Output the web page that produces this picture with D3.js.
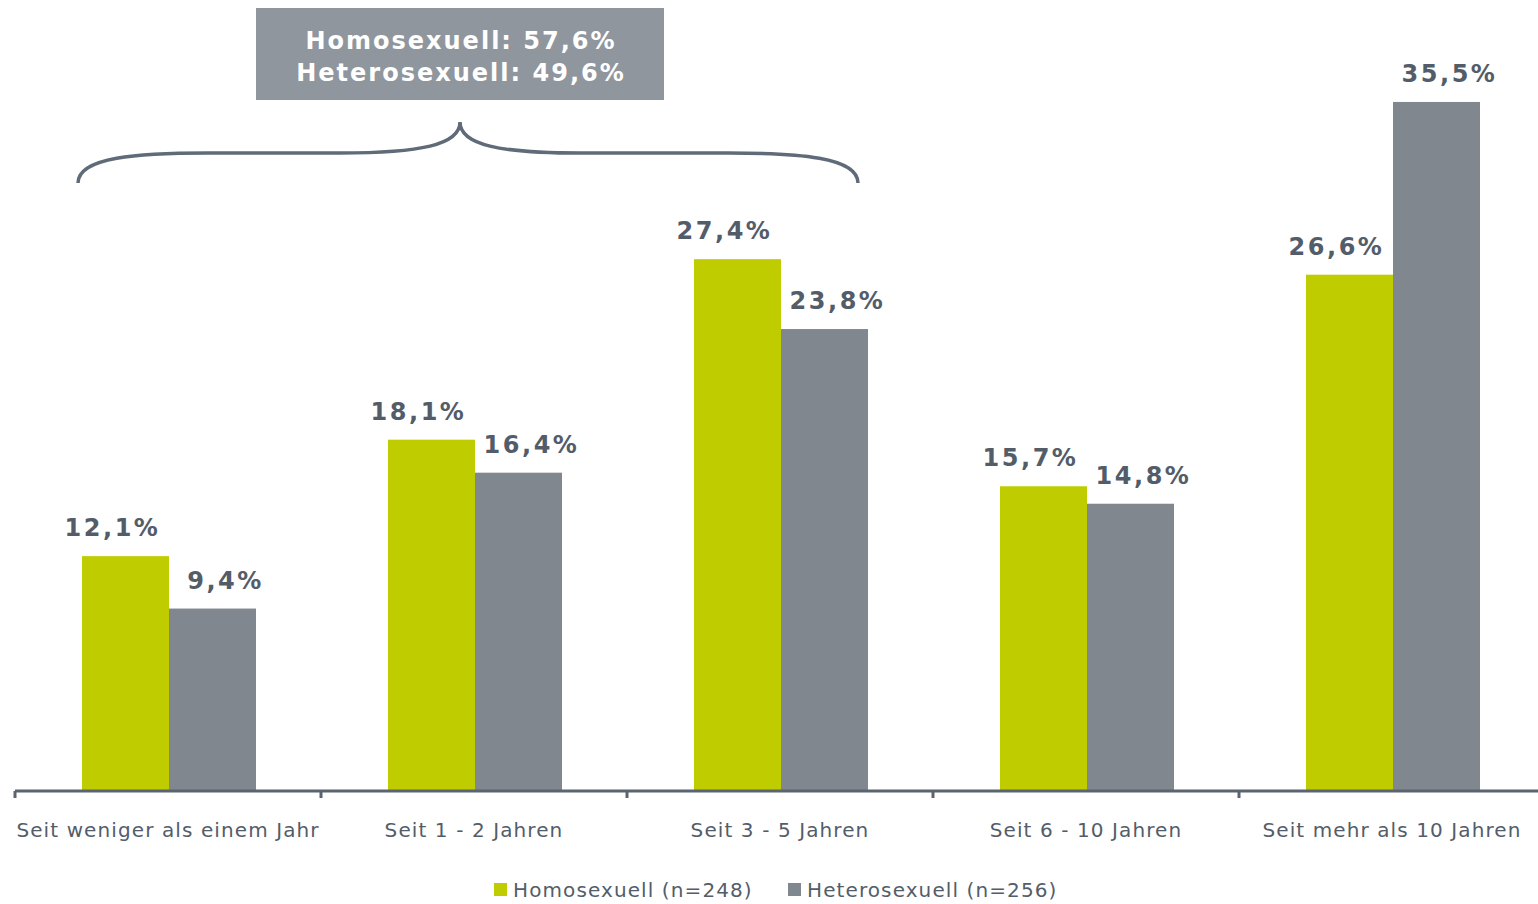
<!DOCTYPE html>
<html>
<head>
<meta charset="utf-8">
<script src="https://cdn.jsdelivr.net/npm/d3@7"></script>
<style>
  body { margin: 0; background: #fff; }
  svg { display: block; font-family: "DejaVu Sans", Verdana, sans-serif; }
</style>
</head>
<body>
<svg id="chart" width="1538" height="904"></svg>
<script>
const CATEGORIES = ['Seit weniger als einem Jahr', 'Seit 1 - 2 Jahren', 'Seit 3 - 5 Jahren', 'Seit 6 - 10 Jahren', 'Seit mehr als 10 Jahren'];
const SERIES = ['Homosexuell (n=248)', 'Heterosexuell (n=256)'];
const HOMO = [12.1, 18.1, 27.4, 15.7, 26.6];
const HETERO = [9.4, 16.4, 23.8, 14.8, 35.5];
const SUMMARY = ['Homosexuell: 57,6%', 'Heterosexuell: 49,6%'];

const COLORS = ['#bfcd00', '#80878f'];
const TEXT = '#535d6a';
const BASE_Y = 791;

const svg = d3.select('#chart');

const xCat = d3.scaleBand()
  .domain(CATEGORIES)
  .range([15, 1545])
  .padding(0);

const xSer = d3.scaleBand()
  .domain(SERIES)
  .range([67, 241]);

const y = d3.scaleLinear()
  .domain([0, 40])
  .range([BASE_Y, BASE_Y - 40 * 19.41]);

const rows = CATEGORIES.map((c, i) => ({ cat: c, values: [HOMO[i], HETERO[i]] }));
const fmt = v => d3.format('.1f')(v).replace('.', ',') + '%';

// bars
const groups = svg.append('g')
  .selectAll('g')
  .data(rows)
  .enter()
  .append('g')
  .attr('transform', d => `translate(${xCat(d.cat)},0)`);

groups.selectAll('rect')
  .data(d => d.values.map((v, j) => ({ s: SERIES[j], v, j })))
  .enter()
  .append('rect')
  .attr('x', d => xSer(d.s))
  .attr('width', xSer.bandwidth())
  .attr('y', d => y(d.v))
  .attr('height', d => BASE_Y - y(d.v))
  .attr('fill', d => COLORS[d.j]);

groups.selectAll('.label')
  .data(d => d.values.map((v, j) => ({ s: SERIES[j], v, j })))
  .enter()
  .append('text')
  .classed('label', true)
  .attr('x', d => xSer(d.s) + xSer.bandwidth() / 2 + (d.j === 0 ? -13 : 13))
  .attr('y', d => y(d.v) - 20)
  .attr('text-anchor', 'middle')
  .attr('font-size', 24)
  .attr('font-weight', 'bold')
  .attr('letter-spacing', 2.5)
  .attr('fill', TEXT)
  .text(d => fmt(d.v));

// x axis: labels via d3 axis, boundary ticks drawn separately
const axis = svg.append('g')
  .attr('transform', `translate(0,${BASE_Y})`)
  .call(d3.axisBottom(xCat).tickSize(0).tickPadding(32));
axis.select('.domain').remove();
axis.selectAll('text')
  .attr('font-size', 20)
  .attr('letter-spacing', 1.1)
  .attr('font-family', '"DejaVu Sans", Verdana, sans-serif')
  .attr('fill', TEXT);

svg.append('line')
  .attr('x1', 15).attr('x2', 1538)
  .attr('y1', BASE_Y).attr('y2', BASE_Y)
  .attr('stroke', '#5a6570')
  .attr('stroke-width', 3);

svg.append('g')
  .selectAll('line')
  .data(CATEGORIES)
  .enter()
  .append('line')
  .attr('x1', d => xCat(d)).attr('x2', d => xCat(d))
  .attr('y1', BASE_Y).attr('y2', BASE_Y + 7)
  .attr('stroke', '#5a6570')
  .attr('stroke-width', 3);

// summary box + brace over the first three groups
const braceL = xCat(CATEGORIES[0]) + xSer(SERIES[0]) - 4;
const braceR = xCat(CATEGORIES[2]) + xSer(SERIES[1]) + xSer.bandwidth() - 10;
const braceM = (braceL + braceR) / 2 - 8;
const bTop = 122, bMid = 153, bBot = 183;

const p = d3.path();
p.moveTo(braceL, bBot);
p.bezierCurveTo(braceL, bMid + 4, braceL + 60, bMid, braceL + 130, bMid);
p.lineTo(braceM - 120, bMid);
p.bezierCurveTo(braceM - 40, bMid, braceM, bMid - 8, braceM, bTop);
p.bezierCurveTo(braceM, bMid - 8, braceM + 40, bMid, braceM + 120, bMid);
p.lineTo(braceR - 130, bMid);
p.bezierCurveTo(braceR - 60, bMid, braceR, bMid + 4, braceR, bBot);

svg.append('path')
  .attr('d', p.toString())
  .attr('fill', 'none')
  .attr('stroke', '#5f6b78')
  .attr('stroke-width', 3.5);

svg.append('rect')
  .attr('x', braceM - 204).attr('y', 8)
  .attr('width', 408).attr('height', 92)
  .attr('fill', '#8f969e');

svg.append('g')
  .selectAll('text')
  .data(SUMMARY)
  .enter()
  .append('text')
  .attr('x', braceM + 1)
  .attr('y', (d, i) => 49 + i * 32)
  .attr('text-anchor', 'middle')
  .attr('font-size', 24)
  .attr('font-weight', 'bold')
  .attr('letter-spacing', 2)
  .attr('fill', '#fff')
  .text(d => d);

// legend
const legend = svg.append('g')
  .selectAll('g')
  .data(SERIES)
  .enter()
  .append('g')
  .attr('transform', (d, i) => `translate(${i === 0 ? 494 : 788},883)`);

legend.append('rect')
  .attr('width', 13).attr('height', 13)
  .attr('fill', (d, i) => COLORS[i]);

legend.append('text')
  .attr('x', 19)
  .attr('y', 14)
  .attr('font-size', 20)
  .attr('letter-spacing', 1.1)
  .attr('fill', TEXT)
  .text(d => d);
</script>
</body>
</html>
